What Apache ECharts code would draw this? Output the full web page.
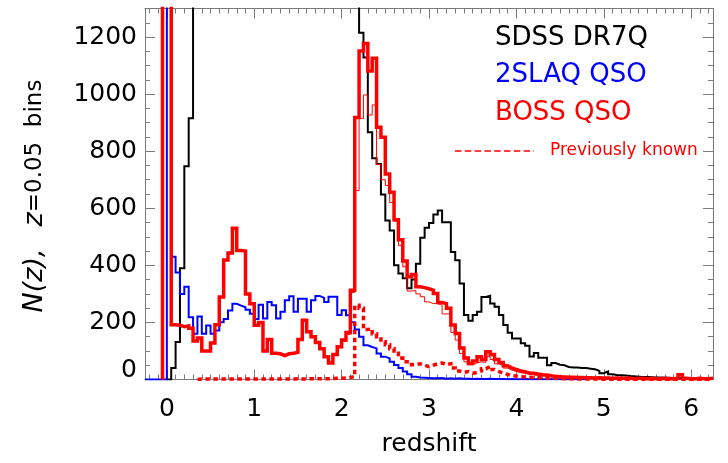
<!DOCTYPE html>
<html><head><meta charset="utf-8">
<script src="https://cdn.jsdelivr.net/npm/echarts@6/dist/echarts.min.js"></script>
<style>html,body{margin:0;padding:0;background:#fff}#c{width:728px;height:463px}</style>
</head><body><div id="c"></div>
<script>
// ---- data: N(z) in dz = 0.05 bins; each series lists counts for consecutive bins from its start z ----
const BIN = 0.05;
const xTicks = [0, 1, 2, 3, 4, 5, 6];
const yTicks = [0, 200, 400, 600, 800, 1000, 1200];
const xMinorTicks = [-0.2,-0.1,0.1,0.2,0.3,0.4,0.5,0.6,0.7,0.8,0.9,1.1,1.2,1.3,1.4,1.5,1.6,1.7,1.8,1.9,2.1,2.2,2.3,2.4,2.5,2.6,2.7,2.8,2.9,3.1,3.2,3.3,3.4,3.5,3.6,3.7,3.8,3.9,4.1,4.2,4.3,4.4,4.5,4.6,4.7,4.8,4.9,5.1,5.2,5.3,5.4,5.5,5.6,5.7,5.8,5.9,6.1,6.2];
const yMinorTicks = [50,100,150,250,300,350,450,500,550,650,700,750,850,900,950,1050,1100,1150,1250];

// SDSS DR7Q (black), first bin starts at z = 0.00 (values > 1300 run off the top of the plot)
const sdssStart = 0.0;
const sdss = [0,40,131,390,747,915,
  1450,1800,2100,2300,2400,2450,2500,2550,2600,2650,2700,2750,2800,2850,2900,2950,3000,3050,3100,3150,3200,3250,3250,3250,3200,3150,3100,3000,2900,2800,2700,2600,2500,2350,2200,2000,1800,1500,
  1215,1128,866,775,755,648,557,522,400,371,355,320,350,406,497,532,548,578,592,551,551,447,418,336,226,206,226,237,289,293,266,255,
  226,191,164,144,144,127,118,81,93,76,76,50,58,52,50,44,42,42,40,40,38,36,30,22,28,18,16,15,14,12,11,10,9,9,8,7,7,6,6,5,5,4,5,4,3,3,3,2,2];

// 2SLAQ QSO (blue), first bin starts at z = -0.25
const slaqStart = -0.25;
const slaq = [0,0,0,0,0,1600,430,375,300,325,218,160,221,160,189,160,172,201,212,242,265,259,253,244,230,
  212,262,214,272,260,214,237,278,292,237,283,283,237,278,293,286,272,290,290,226,
  243,225,201,175,150,120,114,109,91,80,74,62,51,40,28,18,10,7,6,5,
  4,4,5,3,4,3,4,3,3,2,3,2,2,3,2,2,2,1,2,1,1,2,1,1,1,1,1,1,1,1,1,1,1,1,1,1];

// BOSS QSO (thick red), first bin starts at z = -0.05
const bossStart = -0.05;
const boss = [2500,2500,192,190,185,188,180,135,145,100,100,128,192,289,419,443,530,452,450,300,265,
  190,200,100,140,92,90,84,90,92,95,140,208,167,150,130,108,80,58,88,115,138,165,
  313,918,1151,1177,1081,1126,884,849,720,656,560,490,415,360,368,325,322,318,
  313,301,270,266,250,191,161,110,75,56,65,80,70,97,88,70,
  60,48,41,35,30,27,22,22,19,17,16,13,11,10,9,8,8,7,7,6,6,5,6,5,
  5,4,5,4,4,5,3,4,4,3,4,3,3,4,3,3,4,17,4,3,3,4,3,3,4];

// BOSS QSO, thin red line, first bin starts at z = -0.05
const bossThinStart = -0.05;
const bossThin = [2500,2500,192,190,185,188,180,135,143,98,98,126,190,287,417,441,528,450,448,298,263,
  188,198,98,138,90,88,82,88,90,93,138,206,165,148,128,106,78,56,85,111,133,158,
  305,662,915,997,927,962,753,700,680,620,555,470,395,310,312,300,290,272,
  266,266,260,230,230,165,138,91,62,52,58,62,60,80,70,55,
  48,40,33,28,24,22,19,17,14,13,12,10,9,8,7,7,6,6,5,5,5,4,5,4,
  4,3,4,3,3,4,3,3,3,2,3,2,3,3,2,2,3,15,3,2,2,3,2,2,3];

// Previously known (dashed red), first bin starts at z = 0.35
const prevStart = 0.35;
const prev = [2,2,2,2,2,2,2,2,2,2,2,2,2,2,2,2,2,2,2,2,2,2,3,2,2,3,2,3,3,3,3,4,4,5,7,10,
  260,250,175,178,160,150,132,122,108,92,75,62,62,52,55,50,45,
  50,55,58,52,55,40,30,25,28,22,25,30,38,45,35,28,
  22,18,14,12,10,9,8,7,6,6,5,5,4,4,3,3,3,2,2,2,2,2,2,1,
  1,1,1,1,1,1,1,1,1,1,1,1,1,1,1,1,1,1,1,1,1,1,1,1,1];

const legendItems = [
  {label: 'SDSS DR7Q', color: '#000000'},
  {label: '2SLAQ QSO', color: '#0000ff'},
  {label: 'BOSS QSO', color: '#ff0000'}
];
const prevLabel = 'Previously known';

// ---- build histogram step points (vertical rise at each bin's left edge) ----
function histPoints(start, counts) {
  const pts = [[start, 0]];
  for (let i = 0; i < counts.length; i++) {
    pts.push([Math.round((start + (i + 1) * BIN) * 1000) / 1000, counts[i]]);
  }
  return pts;
}

const FONT = 'DejaVu Sans';
const FRAME = '#7a7a7a';
const XMIN = -0.25, XMAX = 6.25, YMIN = 0, YMAX = 1300;

function xAxisDef(pos, ticks, len, showLine, labels) {
  return {
    type: 'value', min: XMIN, max: XMAX, position: pos,
    axisLine: {show: showLine, onZero: false, lineStyle: {color: FRAME, width: 1}},
    axisTick: {show: true, inside: true, length: len, customValues: ticks, lineStyle: {color: FRAME, width: 1}},
    axisLabel: labels ? {show: true, customValues: xTicks, fontSize: 25, fontFamily: FONT, color: '#000', margin: 17,
      formatter: v => String(v)} : {show: false},
    splitLine: {show: false}, minorTick: {show: false},
    name: labels ? 'redshift' : '', nameLocation: 'middle', nameGap: 52,
    nameTextStyle: {fontSize: 25, fontFamily: FONT, color: '#000'}
  };
}
function yAxisDef(pos, ticks, len, showLine, labels) {
  return {
    type: 'value', min: YMIN, max: YMAX, position: pos,
    axisLine: {show: showLine, onZero: false, lineStyle: {color: FRAME, width: 1}},
    axisTick: {show: true, inside: true, length: len, customValues: ticks, lineStyle: {color: FRAME, width: 1}},
    axisLabel: labels ? {show: true, customValues: yTicks, fontSize: 25, fontFamily: FONT, color: '#000', margin: 8,
      formatter: v => (v === 0 ? '{z|0}' : String(v)),
      rich: {z: {fontSize: 25, fontFamily: FONT, color: '#000', padding: [0, 0, 18, 0]}}} : {show: false},
    splitLine: {show: false}, minorTick: {show: false}
  };
}

function histSeries(name, start, counts, color, width, dash) {
  return {
    name, type: 'line', step: 'start', symbol: 'none', showSymbol: false,
    xAxisIndex: 0, yAxisIndex: 0, clip: true, animation: false,
    data: histPoints(start, counts),
    lineStyle: {color, width, type: dash || 'solid', join: 'miter', cap: 'butt'},
    emphasis: {disabled: true}, silent: true
  };
}

const graphics = [];
legendItems.forEach((it, i) => {
  graphics.push({type: 'text', x: 495, y: 38 + i * 37.5,
    style: {text: it.label, fill: it.color, fontSize: 26, fontFamily: FONT, align: 'left', verticalAlign: 'middle'}});
});
graphics.push({type: 'line', shape: {x1: 455, y1: 151, x2: 534, y2: 151},
  style: {stroke: '#ff0000', lineWidth: 1.6, lineDash: [6.5, 3.3]}});
graphics.push({type: 'text', x: 550, y: 151,
  style: {text: prevLabel, fill: '#ff0000', fontSize: 17, fontFamily: FONT, align: 'left', verticalAlign: 'middle'}});
graphics.push({type: 'text', x: 35, y: 196, rotation: Math.PI / 2,
  style: {text: '{i|N(z),}   {i|z}=0.05  bins', fontSize: 23, fontFamily: FONT, fill: '#000',
    align: 'center', verticalAlign: 'middle',
    rich: {i: {fontStyle: 'italic', fontSize: 27, fontFamily: FONT, fill: '#000'}}}});

const chart = echarts.init(document.getElementById('c'), null, {renderer: 'canvas'});
chart.setOption({
  animation: false,
  backgroundColor: '#ffffff',
  grid: {left: 145, top: 8.5, width: 568, height: 371, containLabel: false},
  xAxis: [
    xAxisDef('bottom', xTicks, 10, true, true),
    xAxisDef('bottom', xMinorTicks, 5, false, false),
    xAxisDef('top', xTicks, 10, true, false),
    xAxisDef('top', xMinorTicks, 5, false, false)
  ],
  yAxis: [
    yAxisDef('left', yTicks, 10, true, true),
    yAxisDef('left', yMinorTicks, 5, false, false),
    yAxisDef('right', yTicks, 10, true, false),
    yAxisDef('right', yMinorTicks, 5, false, false)
  ],
  series: [
    histSeries('SDSS DR7Q', sdssStart, sdss, '#000000', 2),
    histSeries('2SLAQ QSO', slaqStart, slaq, '#0000ff', 2),
    histSeries('BOSS QSO', bossStart, boss, '#ff0000', 3.5),
    histSeries('BOSS QSO (thin)', bossThinStart, bossThin, '#ff0000', 1),
    histSeries('Previously known', prevStart, prev, '#ff0000', 3.5, [4.5, 3.5])
  ],
  graphic: graphics
});
</script></body></html>
